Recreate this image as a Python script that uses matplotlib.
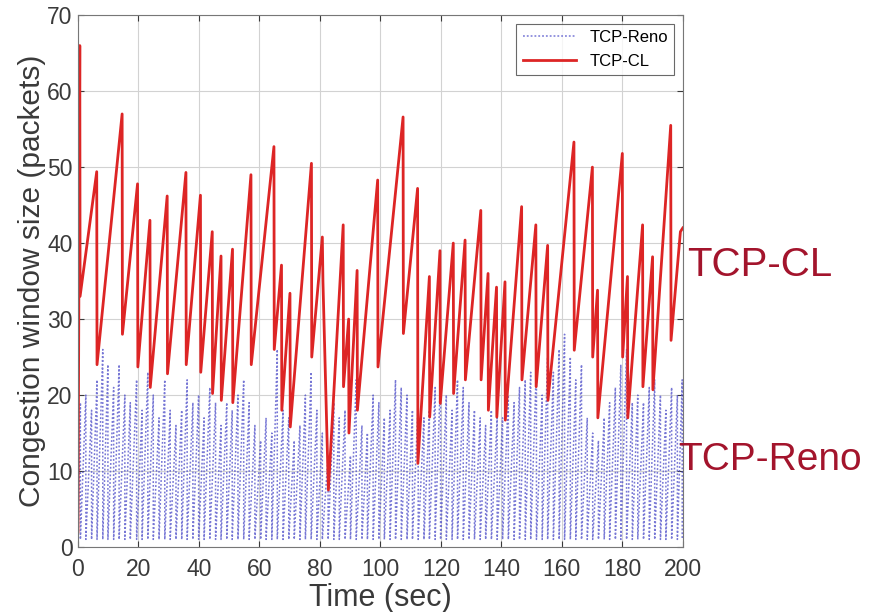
import matplotlib
matplotlib.use("Agg")
import matplotlib.pyplot as plt

# ---------------- data ----------------
# TCP-CL congestion window: alternating peaks / troughs (time in s, window in packets)
cl_t = [0.0, 0.6, 0.7, 6.2, 6.3, 14.6, 14.7, 19.7, 19.8, 23.8, 23.9, 29.5, 29.6,
        35.7, 35.8, 40.5, 40.6, 44.4, 44.5, 47.3, 47.4, 51.1, 51.2, 57.2, 57.3,
        64.8, 64.9, 67.3, 67.4, 70.1, 70.2, 77.2, 77.3, 80.8, 81.0, 82.8, 87.7,
        87.8, 89.5, 89.6, 92.3, 92.4, 99.1, 99.2, 107.5, 107.6, 112.3, 112.4,
        116.2, 116.3, 119.7, 119.8, 124.1, 124.2, 128.0, 128.1, 133.2, 133.3,
        135.6, 135.7, 138.4, 138.5, 141.2, 141.3, 146.7, 146.8, 151.4, 151.5,
        155.3, 155.4, 164.0, 164.1, 170.1, 170.2, 171.8, 171.9, 180.0, 180.1,
        181.7, 181.8, 186.7, 186.8, 190.0, 190.1, 196.0, 196.1, 199.2, 200.0]
cl_w = [2, 66, 33, 49.4, 24, 57, 28, 47.8, 23.7, 43, 21, 46.2, 22.8,
        49.3, 24, 46.3, 23, 41.5, 20.2, 38.3, 19.3, 39.2, 19, 49, 24,
        52.7, 26, 37.1, 18, 33.4, 15.8, 50.5, 25, 40.8, 35, 7.5, 42.4,
        21.1, 30, 15, 36.4, 18, 48.3, 23.7, 56.6, 28.1, 47.2, 11,
        35.6, 17.1, 39, 18.9, 40, 20.2, 40.4, 22, 44.3, 22,
        36, 18, 34.2, 17.1, 34.9, 16.7, 44.8, 22, 42.4, 21.1,
        39.7, 19.3, 53.3, 25.9, 50, 25, 33.8, 17, 51.8, 25,
        35.6, 17, 42.4, 21.1, 38.2, 20.7, 55.5, 27.2, 41.5, 42]

# TCP-Reno: times of window peaks (followed by drop to reno_floor) and peak values
reno_t = [0.8, 2.6, 4.5, 6.3, 8.2, 9.9, 11.8, 13.6, 15.5, 17.3, 19.4, 21.2, 23.1,
          24.9, 26.8, 28.7, 30.5, 32.4, 34.3, 36.1, 38.0, 39.9, 41.7, 43.6, 45.5,
          47.3, 49.2, 51.0, 52.9, 54.8, 56.6, 58.5, 60.4, 62.2, 64.1, 65.9, 67.8,
          69.7, 71.5, 73.4, 75.2, 77.1, 79.0, 80.8, 82.7, 84.6, 86.4, 88.3, 90.1,
          92.0, 93.9, 95.7, 97.6, 99.5, 101.3, 103.2, 105.0, 106.9, 108.8, 110.6,
          112.5, 114.4, 116.2, 118.1, 119.9, 121.8, 123.7, 125.5, 127.4, 129.3,
          131.1, 133.0, 134.8, 136.7, 138.6, 140.4, 142.3, 144.2, 146.0, 147.9,
          149.7, 151.6, 153.5, 155.3, 157.2, 159.1, 160.9, 162.8, 164.6, 166.5,
          168.4, 170.2, 172.1, 174.0, 175.8, 177.7, 179.5, 181.4, 183.3, 185.1,
          187.0, 188.9, 190.7, 192.6, 194.4, 196.3, 198.2, 199.8]
reno_peak = [19, 20, 18, 22, 26, 24, 21, 24, 20, 19, 22, 18, 23,
             20, 17, 22, 18, 16, 18, 22, 19, 20, 17, 21, 19,
             16, 19, 18, 20, 22, 19, 16, 14, 17, 15, 26, 18,
             17, 14, 16, 20, 23, 18, 15, 12, 19, 17, 18, 12,
             22, 16, 15, 20, 19, 17, 18, 22, 21, 20, 18,
             19, 17, 18, 21, 23, 20, 18, 22, 21, 19,
             18, 17, 16, 18, 17, 17, 20, 19, 21, 22,
             23, 24, 20, 25, 23, 26, 28, 25, 22, 24,
             17, 15, 14, 17, 19, 21, 24, 26, 19, 20,
             19, 21, 22, 20, 18, 21, 20, 22]
reno_floor = 1

x_ticks = [0, 20, 40, 60, 80, 100, 120, 140, 160, 180, 200]
y_ticks = [0, 10, 20, 30, 40, 50, 60, 70]

# build Reno sawtooth path from the lists
rx, ry = [0.0], [reno_floor]
for t, p in zip(reno_t, reno_peak):
    rx += [t, t]
    ry += [p, reno_floor]

# ---------------- figure ----------------
fig = plt.figure(figsize=(8.83, 6.12), dpi=100)
ax = fig.add_axes([0.0883, 0.1062, 0.685, 0.869])

ax.plot(rx, ry, linestyle=(0, (1.2, 1.3)), color='#4a4ac8', lw=1.1, alpha=0.75,
        label='TCP-Reno')
ax.plot(cl_t, cl_w, '-', color='#dd2525', lw=2.0, label='TCP-CL')

ax.set_xlim(0, 200)
ax.set_ylim(0, 70)
ax.set_xticks(x_ticks)
ax.set_yticks(y_ticks)
ax.grid(True, color='#d2d2d2', lw=0.8)
ax.set_axisbelow(True)
ax.tick_params(direction='in', length=4, labelsize=16.5, colors='#3a3a3a',
               top=True, right=True)
ax.tick_params(axis='x', pad=8)
ax.tick_params(axis='y', pad=4)
for lab in ax.get_xticklabels() + ax.get_yticklabels():
    lab.set_family('Liberation Sans')
for s in ax.spines.values():
    s.set_color('#777777')

ax.set_xlabel('Time (sec)', fontsize=22, family='Liberation Sans', color='#3a3a3a', labelpad=1)
ax.set_ylabel('Congestion window size (packets)', fontsize=21.5, family='Liberation Sans',
              color='#3a3a3a', labelpad=1)

leg = ax.legend(loc='upper right', fontsize=12, frameon=True, fancybox=False,
                edgecolor='#444444', borderaxespad=0.5, handlelength=3.2,
                prop={'family': 'Liberation Sans', 'size': 12})
leg.get_frame().set_linewidth(0.8)

fig.text(0.778, 0.567, 'TCP-CL', fontsize=29, color='#a3142c', family='Liberation Sans',
         va='center', ha='left')
fig.text(0.768, 0.249, 'TCP-Reno', fontsize=28, color='#a3142c', family='Liberation Sans',
         va='center', ha='left')

fig.savefig('out.png', dpi=100)
